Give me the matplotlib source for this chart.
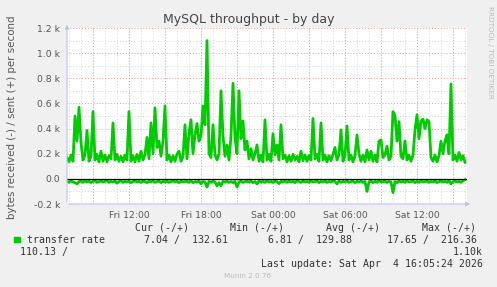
import matplotlib
matplotlib.use("Agg")
import matplotlib.pyplot as plt
import numpy as np

# ---- data (bytes/s), 10-minute samples starting ~06:50 Fri ----
sent = [170,135,190,140,500,300,570,290,150,190,
        385,140,180,535,150,195,135,220,140,190,
        135,185,160,445,150,195,140,180,135,190,
        150,535,140,185,135,195,140,220,150,190,
        330,160,445,200,565,250,300,180,300,580,
        150,190,135,185,140,195,220,140,180,430,
        160,360,470,200,350,440,300,340,580,430,
        1100,200,170,430,190,150,200,700,340,180,
        270,150,340,760,330,200,700,320,460,230,
        300,160,240,150,200,270,140,190,135,470,
        150,195,140,360,190,270,150,430,160,190,
        135,185,140,195,150,180,135,220,145,190,
        140,185,150,480,160,195,140,445,150,190,
        135,185,145,195,250,150,190,390,140,185,
        420,150,190,135,185,350,200,140,190,135,
        230,150,220,140,190,135,300,310,170,190,
        260,150,180,535,500,300,455,180,160,300,
        150,190,140,190,390,510,320,460,475,400,
        470,455,170,140,190,135,185,300,200,300,
        350,200,755,150,190,140,210,150,185,132]

received = [20,28,15,25,30,40,22,18,28,15,
            25,18,30,20,15,28,22,18,25,20,
            15,28,20,25,18,35,22,15,28,20,
            25,18,30,22,15,25,20,28,18,22,
            30,20,25,15,28,22,18,30,20,25,
            18,28,22,15,25,20,30,18,25,22,
            20,28,15,30,22,25,18,40,22,25,
            65,20,28,18,25,55,30,55,20,25,
            18,28,22,30,20,65,25,18,28,22,
            20,25,18,30,22,40,18,25,20,28,
            15,25,20,28,18,22,38,20,25,15,
            28,18,25,20,30,15,22,28,18,25,
            20,28,15,25,22,18,30,20,25,18,
            28,20,25,15,22,40,18,28,20,25,
            15,28,22,18,30,20,25,18,28,22,
            100,25,18,30,20,28,15,25,22,18,
            28,20,25,110,22,30,18,25,20,28,
            15,25,22,18,30,20,28,15,25,22,
            18,28,20,25,15,30,22,18,25,20,
            28,15,40,22,18,25,20,28,15,7]

t_start = 6.833          # hours since Fri 00:00
step = 1.0 / 6.0         # 10 minutes
x_tick_pos = [12, 18, 24, 30, 36]
x_tick_labels = ["Fri 12:00", "Fri 18:00", "Sat 00:00", "Sat 06:00", "Sat 12:00"]
y_tick_pos = [-200, 0, 200, 400, 600, 800, 1000, 1200]
y_tick_labels = ["-0.2 k", "0.0", "0.2 k", "0.4 k", "0.6 k", "0.8 k", "1.0 k", "1.2 k"]

t = t_start + step * np.arange(len(sent))

W, H = 497, 287
fig = plt.figure(figsize=(W / 100, H / 100), dpi=100, facecolor="#F0F0F0")
ax = fig.add_axes([67 / W, (H - 204) / H, 400 / W, 176 / H])
ax.set_facecolor("white")
ax.set_xlim(6.833, 40.167)
ax.set_ylim(-200, 1200)

# grid
major_x = np.arange(9, 40.2, 3)
minor_x = np.arange(7, 40.2, 1)
for xv in minor_x:
    ax.axvline(xv, color="#D4D4D4", lw=0.7, ls=(0, (1, 2)), zorder=0)
for xv in major_x:
    ax.axvline(xv, color="#EE9999", lw=0.7, ls=(0, (1, 2)), zorder=0.5)
for yv in np.arange(-100, 1200, 200):
    ax.axhline(yv, color="#D4D4D4", lw=0.7, ls=(0, (1, 2)), zorder=0)
for yv in np.arange(-200, 1201, 200):
    ax.axhline(yv, color="#EE9999", lw=0.7, ls=(0, (1, 2)), zorder=0.5)

green = "#00CC00"
ax.plot(t, sent, color=green, lw=2.0, zorder=2)
ax.plot(t, -np.array(received), color=green, lw=2.0, zorder=2)
ax.axhline(0, color="black", lw=0.9, zorder=3)

for s in ax.spines.values():
    s.set_visible(False)
ax.set_xticks(x_tick_pos)
ax.set_xticklabels(x_tick_labels)
ax.set_yticks(y_tick_pos)
ax.set_yticklabels(y_tick_labels)
ax.tick_params(length=0, labelsize=6.7, colors="#555555", pad=5)

axis_col = "#C0C0F0"
ax.annotate("", xy=(0, 1.035), xytext=(0, -0.005), xycoords="axes fraction",
            arrowprops=dict(arrowstyle="-|>", color=axis_col, lw=0.8, mutation_scale=6),
            annotation_clip=False)
ax.annotate("", xy=(1.015, 0), xytext=(-0.003, 0), xycoords="axes fraction",
            arrowprops=dict(arrowstyle="-|>", color=axis_col, lw=0.8, mutation_scale=6),
            annotation_clip=False)


def ftext(x, y, s, **kw):
    fig.text(x / W, 1 - y / H, s, **kw)


ftext(249, 20, "MySQL throughput - by day", ha="center", va="center", fontsize=9, color="#444444")
ftext(12, 117, "bytes received (-) / sent (+) per second", rotation=90, ha="center", va="center",
      fontsize=7.4, color="#555555")
ftext(490, 52, "RRDTOOL / TOBI OETIKER", rotation=270, ha="center", va="center",
      fontsize=5.2, color="#BBBBBB")

mono = dict(family="DejaVu Sans Mono", fontsize=7.1, color="#333333", va="center")
ftext(135, 228, "Cur (-/+)", ha="left", **mono)
ftext(230.5, 228, "Min (-/+)", ha="left", **mono)
ftext(326.5, 228, "Avg (-/+)", ha="left", **mono)
ftext(422.5, 228, "Max (-/+)", ha="left", **mono)

fig.patches.append(plt.Rectangle((14 / W, 1 - 242 / H), 5.5 / W, 5.5 / H,
                                 transform=fig.transFigure, color=green, figure=fig))
ftext(26.7, 240, "transfer rate", ha="left", **mono)
ftext(228.5, 240, "7.04 /  132.61", ha="right", **mono)
ftext(352, 240, "6.81 /  129.88", ha="right", **mono)
ftext(477, 240, "17.65 /  216.36", ha="right", **mono)
ftext(20.5, 252, "110.13 /", ha="left", **mono)
ftext(483, 252, "1.10k", ha="right", **mono)
ftext(483, 264, "Last update: Sat Apr  4 16:05:24 2026", ha="right", **mono)
ftext(248, 276.5, "Munin 2.0.76", ha="center", va="center", fontsize=5.2, color="#BBBBBB")

fig.savefig("out.png", dpi=100, facecolor=fig.get_facecolor())
